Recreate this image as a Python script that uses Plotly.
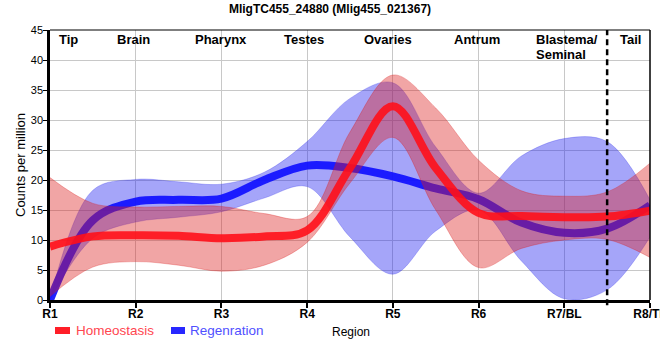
import plotly.graph_objects as go

# ---- data ----
regions = ["R1", "R2", "R3", "R4", "R5", "R6", "R7/BL", "R8/TL"]
# positions along the region axis: every half step between regions
positions = [0, 0.5, 1, 1.5, 2, 2.5, 3, 3.5, 4, 4.5, 5, 5.5, 6, 6.5, 7]

homeo_mean = [8.9, 10.6, 10.8, 10.7, 10.3, 10.6, 11.6, 22.0, 32.3, 22.0, 14.5, 14.0, 13.8, 13.9, 14.9]
homeo_upper = [20.4, 16.1, 15.5, 15.6, 15.6, 14.4, 13.9, 28.0, 37.5, 32.0, 23.3, 18.2, 17.3, 18.0, 22.8]
homeo_lower = [0.6, 5.5, 6.4, 5.8, 4.8, 5.8, 9.6, 19.5, 27.1, 15.0, 5.4, 8.6, 10.0, 10.1, 7.1]

regen_mean = [0.0, 13.3, 16.4, 16.7, 16.9, 20.0, 22.4, 22.0, 20.6, 18.6, 16.8, 12.9, 11.2, 11.9, 15.8]
regen_upper = [0.0, 18.3, 20.1, 19.7, 19.3, 21.3, 26.4, 33.6, 36.2, 25.5, 17.8, 24.0, 26.9, 26.4, 16.7]
regen_lower = [0.0, 10.3, 13.0, 13.8, 14.7, 17.0, 18.9, 10.5, 4.3, 11.5, 15.0, 6.5, 0.2, 1.7, 10.5]

tissue_labels = ["Tip", "Brain", "Pharynx", "Testes", "Ovaries", "Antrum", "Tail"]
tissue_pos = [0.22, 0.97, 1.99, 2.96, 3.94, 4.98, 6.77]
blastema_lines = ["Blastema/", "Seminal"]
blastema_pos = 5.65
tail_boundary = 6.5

FONT = "Liberation Sans, Arial, sans-serif"
SMOOTH = 1.0

fig = go.Figure()

# Regeneration band + line
fig.add_trace(go.Scatter(x=positions, y=regen_lower, mode="lines",
                         line=dict(color="rgba(40,40,230,0.25)", width=1, shape="spline", smoothing=SMOOTH),
                         showlegend=False, hoverinfo="skip"))
fig.add_trace(go.Scatter(x=positions, y=regen_upper, mode="lines", fill="tonexty",
                         fillcolor="rgba(30,30,240,0.40)",
                         line=dict(color="rgba(40,40,230,0.25)", width=1, shape="spline", smoothing=SMOOTH),
                         showlegend=False, hoverinfo="skip"))
fig.add_trace(go.Scatter(x=positions, y=regen_mean, mode="lines", name="Regenration",
                         line=dict(color="rgba(15,15,255,0.92)", width=8, shape="spline", smoothing=SMOOTH),
                         showlegend=False))

# Homeostasis band + line
fig.add_trace(go.Scatter(x=positions, y=homeo_lower, mode="lines",
                         line=dict(color="rgba(220,30,30,0.3)", width=1, shape="spline", smoothing=SMOOTH),
                         showlegend=False, hoverinfo="skip"))
fig.add_trace(go.Scatter(x=positions, y=homeo_upper, mode="lines", fill="tonexty",
                         fillcolor="rgba(220,30,30,0.40)",
                         line=dict(color="rgba(220,30,30,0.3)", width=1, shape="spline", smoothing=SMOOTH),
                         showlegend=False, hoverinfo="skip"))
fig.add_trace(go.Scatter(x=positions, y=homeo_mean, mode="lines", name="Homeostasis",
                         line=dict(color="rgba(255,15,25,0.9)", width=8, shape="spline", smoothing=SMOOTH),
                         showlegend=False))

annotations = []
for lab, p in zip(tissue_labels, tissue_pos):
    annotations.append(dict(x=p, y=(300 - 39.5) / 270, xref="x", yref="paper", text=lab,
                            showarrow=False, xanchor="center", yanchor="middle",
                            font=dict(family=FONT, size=13, color="black", weight="bold")))
for i, lab in enumerate(blastema_lines):
    annotations.append(dict(x=blastema_pos, y=(300 - 39.5 - 14.5 * i) / 270, xref="x", yref="paper",
                            text=lab, showarrow=False, xanchor="left", yanchor="middle",
                            font=dict(family=FONT, size=13, color="black", weight="bold")))

# axis titles
annotations.append(dict(x=(20 - 50) / 600, y=0.5, xref="paper", yref="paper", text="Counts per million",
                        textangle=-90, showarrow=False, xanchor="center", yanchor="middle",
                        font=dict(family=FONT, size=13, color="black")))
annotations.append(dict(x=(351 - 50) / 600, y=(300 - 332) / 270, xref="paper", yref="paper", text="Region",
                        showarrow=False, xanchor="center", yanchor="middle",
                        font=dict(family=FONT, size=12, color="black")))

# manual legend
legend_items = [("Homeostasis", "rgb(255,30,40)", "rgb(255,70,80)", 55, 70, 75),
                ("Regenration", "rgb(40,40,255)", "rgb(80,80,255)", 171, 185, 189)]
shapes = []
for name, sym_col, txt_col, x0, x1, tx in legend_items:
    shapes.append(dict(type="rect", xref="paper", yref="paper",
                       x0=(x0 - 50) / 600, x1=(x1 - 50) / 600,
                       y0=(300 - 327) / 270, y1=(300 - 334) / 270,
                       fillcolor=sym_col, line=dict(width=0)))
    annotations.append(dict(x=(tx - 50) / 600, y=(300 - 330.5) / 270, xref="paper", yref="paper", text=name,
                            showarrow=False, xanchor="left", yanchor="middle", borderpad=0,
                            font=dict(family=FONT, size=13.5, color=txt_col)))

# frame top/right
shapes.append(dict(type="line", xref="paper", yref="paper", x0=0, x1=1, y0=1, y1=1,
                   line=dict(color="black", width=1.2)))
shapes.append(dict(type="line", xref="paper", yref="paper", x0=1, x1=1, y0=0, y1=1,
                   line=dict(color="black", width=1.5)))
# tail boundary
shapes.append(dict(type="line", xref="x", yref="paper", x0=tail_boundary, x1=tail_boundary,
                   y0=-0.019, y1=1, line=dict(color="black", width=2.5, dash="6px,4px")))

fig.update_layout(
    width=660, height=360,
    margin=dict(l=50, r=10, t=30, b=60, autoexpand=False),
    paper_bgcolor="white", plot_bgcolor="white",
    title=dict(text="MligTC455_24880 (Mlig455_021367)", x=0.5, xref="container", xanchor="center",
               y=1 - 8.5 / 360, yanchor="middle",
               font=dict(family=FONT, size=12, color="black", weight="bold")),
    xaxis=dict(range=[0, 7], tickmode="array", tickvals=list(range(len(regions))), ticktext=regions,
               showgrid=True, gridcolor="#c8c8c8", gridwidth=1, zeroline=False,
               showline=True, linecolor="black", linewidth=2.5,
               ticks="outside", ticklen=5, tickwidth=1.5, tickcolor="black",
               ticklabeloverflow="allow", ticklabelstandoff=-4,
               tickfont=dict(family=FONT, size=12, color="black", weight="bold")),
    yaxis=dict(range=[0, 45], dtick=5, tick0=0,
               showgrid=True, gridcolor="#c8c8c8", gridwidth=1, zeroline=False,
               showline=True, linecolor="black", linewidth=2.5,
               ticks="outside", ticklen=4, tickwidth=1, tickcolor="black",
               ticklabelstandoff=-2,
               tickfont=dict(family=FONT, size=11, color="black")),
    showlegend=False,
    annotations=annotations,
    shapes=shapes,
)

fig.write_html("out.html", config={"displayModeBar": False},
               post_script="document.body.style.margin='0';document.body.style.overflow='hidden';")
